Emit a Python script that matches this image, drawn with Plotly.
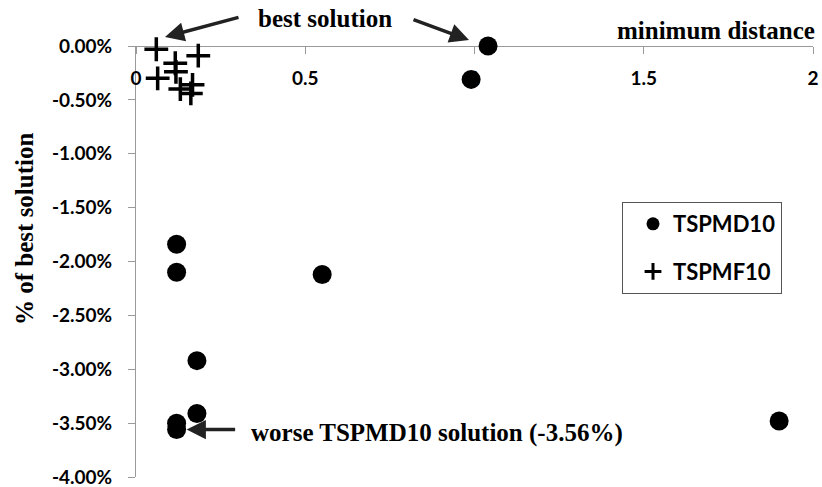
import plotly.graph_objects as go

# minimum distance (x) and deviation from best solution in % (y)
md10_dist = [1.04, 0.99, 0.12, 0.12, 0.55, 0.18, 0.18, 0.12, 0.12, 1.90]
md10_gap = [0.00, -0.31, -1.84, -2.10, -2.12, -2.92, -3.41, -3.50, -3.56, -3.48]

mf10_dist = [0.06, 0.116, 0.184, 0.064, 0.118, 0.131, 0.167, 0.162]
mf10_gap = [-0.03, -0.16, -0.09, -0.30, -0.24, -0.40, -0.36, -0.44]

x_ticks = [0, 0.5, 1, 1.5, 2]
x_tick_labels = ["0", "0.5", "1", "1.5", "2"]
y_ticks = [0, -0.5, -1.0, -1.5, -2.0, -2.5, -3.0, -3.5, -4.0]
y_tick_labels = ["0.00%", "-0.50%", "-1.00%", "-1.50%", "-2.00%",
                 "-2.50%", "-3.00%", "-3.50%", "-4.00%"]

worst_gap = min(md10_gap)
worst_dist = md10_dist[md10_gap.index(worst_gap)]

SANS = "Lato"
SERIF = "Liberation Serif"
AXIS_GREY = "#9a9a9a"

fig = go.Figure()
# data markers
fig.add_trace(go.Scatter(
    x=md10_dist, y=md10_gap, mode="markers", name="TSPMD10", showlegend=False,
    marker=dict(symbol="circle", size=19, color="black", line=dict(width=0)),
    cliponaxis=False,
))
fig.add_trace(go.Scatter(
    x=mf10_dist, y=mf10_gap, mode="markers", name="TSPMF10", showlegend=False,
    marker=dict(symbol="cross-thin", size=17, color="black",
                line=dict(width=3.5, color="black")),
    cliponaxis=False,
))
# legend keys, drawn with smaller symbols
fig.add_trace(go.Scatter(
    x=[None], y=[None], mode="markers", name="TSPMD10", legendgroup="a",
    marker=dict(symbol="circle", size=13, color="black", line=dict(width=0)),
))
fig.add_trace(go.Scatter(
    x=[None], y=[None], mode="markers", name="TSPMF10", legendgroup="b",
    marker=dict(symbol="cross-thin", size=12, color="black",
                line=dict(width=3, color="black")),
))

fig.update_layout(
    width=822, height=487,
    margin=dict(l=136, r=9, t=46, b=10, autoexpand=False),
    paper_bgcolor="white", plot_bgcolor="white",
    showlegend=True,
    legend=dict(
        x=(622 - 136) / 677, y=(477 - 202) / 431,
        xanchor="left", yanchor="top",
        bordercolor="#555555", borderwidth=1,
        font=dict(family=SANS, size=22, color="black", weight="bold"),
        tracegroupgap=16, traceorder="grouped", indentation=10,
    ),
    xaxis=dict(
        range=[0, 2], tickvals=x_ticks, ticktext=x_tick_labels,
        anchor="free", position=1, side="bottom", automargin=False,
        showline=True, linecolor=AXIS_GREY, linewidth=1,
        ticks="outside", ticklen=7, tickcolor=AXIS_GREY,
        ticklabelstandoff=8,
        showgrid=False, zeroline=False, layer="below traces",
        tickfont=dict(family=SANS, size=19, color="black", weight="bold"),
    ),
    yaxis=dict(
        range=[-4, 0], tickvals=y_ticks, ticktext=y_tick_labels,
        automargin=False,
        showline=True, linecolor=AXIS_GREY, linewidth=1,
        ticks="outside", ticklen=7, tickcolor=AXIS_GREY,
        ticklabelstandoff=12, ticklabeloverflow="allow",
        showgrid=False, zeroline=False, layer="below traces",
        tickfont=dict(family=SANS, size=19, color="black", weight="bold"),
    ),
)

serif_font = dict(family=SERIF, size=25, color="black", weight="bold")

# axis titles
fig.add_annotation(
    text="minimum distance", xref="paper", yref="paper",
    x=1.0, y=(477 - 30) / 431, xanchor="right", yanchor="middle",
    showarrow=False, font=serif_font, xshift=4,
)
fig.add_annotation(
    text="% of best solution", xref="paper", yref="paper",
    x=(24 - 136) / 677, y=(477 - 229) / 431, xanchor="center", yanchor="middle",
    textangle=-90, showarrow=False, font=serif_font,
)

# "best solution" callout with two arrows
fig.add_annotation(
    text="best solution", xref="paper", yref="paper",
    x=(325 - 136) / 677, y=(477 - 18) / 431, xanchor="center", yanchor="middle",
    showarrow=False, font=serif_font,
)
arrow_style = dict(showarrow=True, arrowhead=2, arrowsize=1.1, arrowwidth=3.5,
                   arrowcolor="#222222", text="", axref="pixel", ayref="pixel")
fig.add_annotation(xref="paper", yref="paper",
                   x=(165 - 136) / 677, y=(477 - 37) / 431, ax=75, ay=-20,
                   **arrow_style)
fig.add_annotation(xref="paper", yref="paper",
                   x=(469 - 136) / 677, y=(477 - 40) / 431, ax=-57, ay=-21,
                   **arrow_style)

# worst TSPMD10 solution callout
fig.add_annotation(x=worst_dist, y=worst_gap, xshift=10, ax=50, ay=0,
                   **arrow_style)
fig.add_annotation(
    text=f"worse TSPMD10 solution ({worst_gap:.2f}%)",
    xref="paper", yref="paper",
    x=(249 - 136) / 677, y=(477 - 433) / 431, xanchor="left", yanchor="middle",
    showarrow=False, font=serif_font,
)

fig.write_html("out.html")
